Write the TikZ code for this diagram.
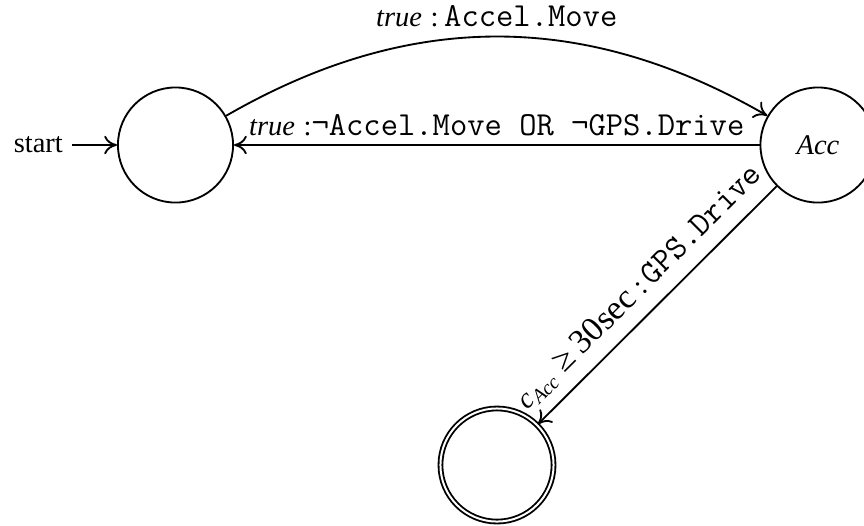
\documentclass[tikz,border=0pt]{standalone}
\usepackage{fontspec}
\setmainfont{Liberation Serif}
\usetikzlibrary{arrows.meta}

% typewriter text, slightly enlarged so its pitch matches a Courier-like face
\newcommand\code[1]{{\fontsize{11.8}{13}\selectfont\ttfamily #1}}

\tikzset{
  state/.style={draw, circle, line width=0.65pt, minimum size=40.4pt, inner sep=0pt},
  accepting/.style={state, double, double distance=0.7pt, minimum size=39.7pt},
  trans/.style={line width=0.65pt, -{To[length=4.5pt,width=6.5pt]}},
  lbl/.style={font=\fontsize{10}{12}\selectfont, inner sep=3pt}
}

\begin{document}
\begin{tikzpicture}[x=0.351pt, y=-0.351pt, font=\fontsize{10}{12}\selectfont]
  % canvas, 864 x 525 units
  \useasboundingbox (0,0) rectangle (864,525);
  \clip (0,0) rectangle (864,525);

  % states
  \node[state] (q0)  at (175.5,145) {};
  \node[state] (acc) at (818,145) {\textit{Acc}};
  \node[accepting] (q2) at (497,465) {};

  % initial marker
  \node[anchor=east, inner sep=3pt] (start) at (72,145) {start};
  \draw[trans] (start.east) -- (q0.west);

  % transitions
  \draw[trans] (q0) to[bend left=30]
    node[lbl, above] {\textit{true}\hspace{0.3em}:\hspace{0.2em}\code{Accel.Move}} (acc);

  \draw[trans] (acc) --
    node[lbl, above] {\textit{true}\hspace{0.3em}:\code{¬Accel.Move OR ¬GPS.Drive}} (q0);

  \draw[trans] (acc) --
    node[lbl, above, sloped, inner sep=4pt] {\textit{c}\textsubscript{\textit{Acc}}\hspace{0.3em}{\large ≥\hspace{0.2em}30sec}\hspace{0.25em}:\hspace{0.2em}\code{GPS.Drive}} (q2);
\end{tikzpicture}
\end{document}
